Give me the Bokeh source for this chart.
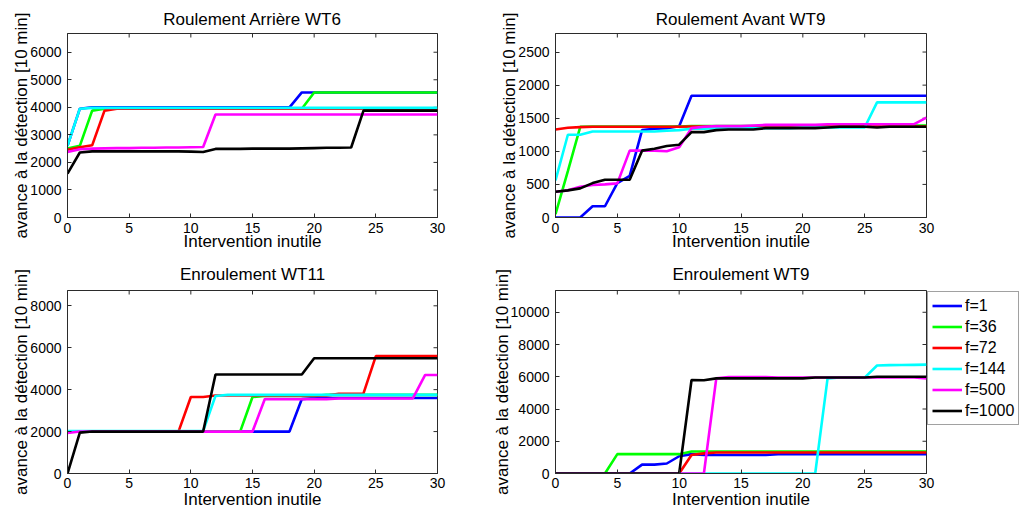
from bokeh.plotting import figure
from bokeh.layouts import column, row
from bokeh.models import Range1d, Legend, LegendItem, FixedTicker
from bokeh.embed import file_html
from bokeh.resources import INLINE
import math

# ---------------- data ----------------
x_vals = [0, 1, 2, 3, 4, 5, 6, 7, 8, 9, 10, 11, 12, 13, 14, 15, 16, 17, 18, 19, 20,
          21, 22, 23, 24, 25, 26, 27, 28, 29, 30]
series_labels = ["f=1", "f=36", "f=72", "f=144", "f=500", "f=1000"]
series_colors = ["#0000ff", "#00ff00", "#ff0000", "#00ffff", "#ff00ff", "#000000"]
x_ticks = [0, 5, 10, 15, 20, 25, 30]
x_label = "Intervention inutile"
y_label = "avance à la détection [10 min]"

# Roulement Arrière WT6
wt6_title = "Roulement Arrière WT6"
wt6_ymax = 6680
wt6_yticks = [0, 1000, 2000, 3000, 4000, 5000, 6000]
wt6_f1 = [2600, 3950, 4000, 4000, 4000, 4000, 4000, 4000, 4000, 4000, 4000, 4000, 4000, 4000, 4000, 4000,
          4000, 4000, 4000, 4540, 4540, 4540, 4540, 4540, 4540, 4540, 4540, 4540, 4540, 4540, 4540]
wt6_f36 = [2500, 2600, 3880, 3950, 3950, 3950, 3950, 3950, 3950, 3950, 3950, 3950, 3950, 3950, 3950, 3950,
           3950, 3950, 3950, 3950, 4540, 4540, 4540, 4540, 4540, 4540, 4540, 4540, 4540, 4540, 4540]
wt6_f72 = [2460, 2550, 2620, 3880, 3950, 3950, 3950, 3950, 3950, 3950, 3950, 3950, 3950, 3950, 3950, 3950,
           3950, 3950, 3950, 3950, 3950, 3950, 3950, 3950, 3950, 3950, 3950, 3950, 3950, 3950, 3950]
wt6_f144 = [2600, 3950, 3980, 3980, 3980, 3980, 3980, 3980, 3980, 3980, 3980, 3980, 3980, 3980, 3980, 3980,
            3980, 3980, 3980, 3980, 3980, 3980, 3980, 3980, 3980, 3980, 3980, 3980, 3980, 3980, 3980]
wt6_f500 = [2380, 2480, 2500, 2510, 2520, 2520, 2530, 2530, 2540, 2540, 2550, 2560, 3740, 3740, 3740, 3740,
            3740, 3740, 3740, 3740, 3740, 3740, 3740, 3740, 3740, 3740, 3740, 3740, 3740, 3740, 3740]
wt6_f1000 = [1590, 2360, 2400, 2400, 2400, 2400, 2400, 2400, 2400, 2400, 2390, 2380, 2490, 2490, 2490, 2500,
             2500, 2500, 2500, 2510, 2520, 2530, 2530, 2540, 3880, 3880, 3880, 3880, 3880, 3880, 3880]

# Roulement Avant WT9
ra9_title = "Roulement Avant WT9"
ra9_ymax = 2780
ra9_yticks = [0, 500, 1000, 1500, 2000, 2500]
ra9_f1 = [0, 0, 0, 170, 170, 520, 630, 1320, 1340, 1350, 1380, 1840, 1840, 1840, 1840, 1840,
          1840, 1840, 1840, 1840, 1840, 1840, 1840, 1840, 1840, 1840, 1840, 1840, 1840, 1840, 1840]
ra9_f36 = [50, 700, 1370, 1375, 1375, 1375, 1375, 1375, 1375, 1375, 1375, 1380, 1380, 1380, 1380, 1380,
           1380, 1380, 1380, 1380, 1380, 1390, 1390, 1390, 1390, 1390, 1390, 1390, 1390, 1390, 1390]
ra9_f72 = [1330, 1355, 1365, 1370, 1370, 1370, 1370, 1370, 1370, 1370, 1370, 1375, 1375, 1375, 1375, 1375,
           1375, 1375, 1375, 1375, 1375, 1375, 1375, 1375, 1375, 1375, 1375, 1375, 1375, 1375, 1375]
ra9_f144 = [560, 1250, 1250, 1300, 1300, 1300, 1300, 1300, 1300, 1310, 1320, 1340, 1340, 1350, 1350, 1350,
            1350, 1350, 1350, 1350, 1360, 1360, 1360, 1360, 1360, 1360, 1740, 1740, 1740, 1740, 1740]
ra9_f500 = [390, 410, 465, 490, 500, 515, 1010, 1010, 1010, 1000, 1060, 1350, 1370, 1380, 1380, 1380,
            1390, 1400, 1400, 1400, 1400, 1400, 1410, 1410, 1410, 1410, 1410, 1410, 1410, 1410, 1510]
ra9_f1000 = [390, 410, 440, 520, 570, 570, 570, 1010, 1040, 1080, 1100, 1290, 1290, 1320, 1330, 1330,
             1330, 1350, 1350, 1350, 1350, 1350, 1360, 1370, 1370, 1370, 1360, 1370, 1370, 1370, 1370]

# Enroulement WT11
en11_title = "Enroulement WT11"
en11_ymax = 8730
en11_yticks = [0, 2000, 4000, 6000, 8000]
en11_f1 = [2000, 2000, 2000, 2000, 2000, 2000, 2000, 2000, 2000, 2000, 2000, 2000, 2000, 2000, 2000, 2000,
           2000, 2000, 2000, 3550, 3600, 3600, 3600, 3600, 3600, 3600, 3600, 3600, 3600, 3600, 3600]
en11_f36 = [2000, 2000, 2000, 2000, 2000, 2000, 2000, 2000, 2000, 2000, 2000, 2000, 2000, 2000, 2000, 3650,
            3700, 3700, 3700, 3700, 3700, 3750, 3750, 3750, 3750, 3750, 3750, 3750, 3750, 3750, 3750]
en11_f72 = [2000, 2000, 2000, 2000, 2000, 2000, 2000, 2000, 2000, 2000, 3650, 3650, 3720, 3720, 3720, 3720,
            3720, 3720, 3720, 3720, 3720, 3720, 3800, 3800, 3820, 5600, 5600, 5600, 5600, 5600, 5600]
en11_f144 = [2030, 2030, 2030, 2030, 2030, 2030, 2030, 2030, 2030, 2030, 2030, 2030, 3700, 3750, 3750, 3750,
             3750, 3750, 3750, 3750, 3750, 3750, 3750, 3750, 3750, 3750, 3750, 3750, 3750, 3750, 3750]
en11_f500 = [1930, 2000, 2000, 2000, 2000, 2000, 2000, 2000, 2000, 2000, 2000, 2000, 2000, 2000, 2000, 2000,
             3550, 3550, 3550, 3550, 3550, 3550, 3580, 3580, 3580, 3580, 3580, 3580, 3580, 4700, 4700]
en11_f1000 = [0, 1950, 2000, 2000, 2000, 2000, 2000, 2000, 2000, 2000, 2000, 2000, 4720, 4720, 4720, 4720,
              4720, 4720, 4720, 4720, 5500, 5500, 5500, 5500, 5500, 5500, 5500, 5500, 5500, 5500, 5500]

# Enroulement WT9
en9_title = "Enroulement WT9"
en9_ymax = 11350
en9_yticks = [0, 2000, 4000, 6000, 8000, 10000]
en9_f1 = [0, 0, 0, 0, 0, 0, 0, 550, 550, 620, 1070, 1200, 1150, 1150, 1150, 1150,
          1150, 1150, 1200, 1200, 1200, 1200, 1200, 1200, 1200, 1200, 1200, 1200, 1200, 1200, 1200]
en9_f36 = [0, 0, 0, 0, 0, 1200, 1200, 1200, 1200, 1200, 1200, 1360, 1360, 1360, 1360, 1360,
           1360, 1360, 1360, 1360, 1360, 1360, 1360, 1360, 1360, 1360, 1360, 1360, 1360, 1360, 1360]
en9_f72 = [0, 0, 0, 0, 0, 0, 0, 0, 0, 0, 0, 1150, 1250, 1300, 1300, 1300,
           1300, 1300, 1300, 1300, 1300, 1300, 1300, 1300, 1300, 1300, 1300, 1300, 1300, 1300, 1300]
en9_f144 = [0, 0, 0, 0, 0, 0, 0, 0, 0, 0, 0, 0, 0, 0, 0, 0,
            0, 0, 0, 0, 0, 0, 5900, 5950, 5950, 5950, 6700, 6720, 6730, 6740, 6750]
en9_f500 = [0, 0, 0, 0, 0, 0, 0, 0, 0, 0, 0, 0, 0, 5900, 5980, 5980,
            5980, 5980, 5950, 5950, 5950, 5950, 5950, 5950, 5950, 5950, 5950, 5950, 5950, 5950, 5900]
en9_f1000 = [0, 0, 0, 0, 0, 0, 0, 0, 0, 0, 0, 5800, 5780, 5900, 5900, 5900,
             5900, 5900, 5900, 5900, 5900, 5950, 5950, 5950, 5950, 5950, 6000, 6000, 6000, 6000, 6000]

# ---------------- styling ----------------
FONT = "Liberation Sans"
AXC = "#2b2b2b"


def make_panel(title, ymax, yticks, series, left, right, top, bottom, fw, fh, row_bottom):
    p = figure(frame_width=fw, frame_height=fh,
               x_range=Range1d(0, 30), y_range=Range1d(0, ymax),
               output_backend="svg", toolbar_location=None,
               min_border_left=left, min_border_right=right,
               min_border_top=top, min_border_bottom=bottom,
               background_fill_color="white", border_fill_color="white",
               outline_line_color=AXC, outline_line_width=1)
    p.grid.visible = False
    p.title.text = title
    p.title.align = "center"
    p.title.text_font = FONT
    p.title.text_font_size = "17px"
    p.title.text_font_style = "normal"
    p.title.text_color = "black"
    p.title.standoff = 13 if row_bottom else 10
    p.title.offset = 0

    for ax, ticks, lab in ((p.xaxis[0], x_ticks, x_label), (p.yaxis[0], yticks, y_label)):
        ax.ticker = FixedTicker(ticks=ticks)
        ax.axis_label = lab
        ax.axis_label_text_font = FONT
        ax.axis_label_text_font_size = "17px"
        ax.axis_label_text_font_style = "normal"
        ax.axis_label_text_color = "black"
        ax.major_label_text_font = FONT
        ax.major_label_text_font_size = "14px"
        ax.major_label_text_color = "black"
        ax.major_tick_in = 4
        ax.major_tick_out = 0
        ax.minor_tick_line_color = None
        ax.axis_line_color = AXC
        ax.major_tick_line_color = AXC
    p.yaxis[0].major_label_standoff = 6
    p.yaxis[0].axis_label_standoff = -4
    if row_bottom:
        p.xaxis[0].major_label_standoff = 4
        p.xaxis[0].axis_label_standoff = -1
    else:
        p.xaxis[0].major_label_standoff = 5
        p.xaxis[0].axis_label_standoff = -4

    # inward ticks on the top and right edges of the box (clipped to the frame)
    p.scatter([30] * len(yticks), yticks, marker="dash", size=8,
              line_color=AXC, line_width=1)
    p.scatter(x_ticks, [ymax] * len(x_ticks), marker="dash", size=8, angle=math.pi / 2,
              line_color=AXC, line_width=1)

    renderers = []
    for ys, col in zip(series, series_colors):
        r = p.line(x_vals, ys, line_color=col, line_width=2.6)
        renderers.append(r)
    return p, renderers


p1, _ = make_panel(wt6_title, wt6_ymax, wt6_yticks,
                   [wt6_f1, wt6_f36, wt6_f72, wt6_f144, wt6_f500, wt6_f1000],
                   67, 40, 33, 36, 370, 184, False)
p2, _ = make_panel(ra9_title, ra9_ymax, ra9_yticks,
                   [ra9_f1, ra9_f36, ra9_f72, ra9_f144, ra9_f500, ra9_f1000],
                   78, 96, 33, 36, 371, 184, False)
p3, _ = make_panel(en11_title, en11_ymax, en11_yticks,
                   [en11_f1, en11_f36, en11_f72, en11_f144, en11_f500, en11_f1000],
                   67, 40, 37, 36, 370, 183, True)
p4, rs4 = make_panel(en9_title, en9_ymax, en9_yticks,
                     [en9_f1, en9_f36, en9_f72, en9_f144, en9_f500, en9_f1000],
                     78, 96, 37, 36, 371, 183, True)

legend = Legend(items=[LegendItem(label=lab, renderers=[r]) for lab, r in zip(series_labels, rs4)],
                location="top_left", margin=1, padding=4, spacing=2,
                glyph_width=30, glyph_height=19, label_height=19, label_standoff=3,
                label_text_font=FONT, label_text_font_size="16px", label_text_color="black",
                border_line_color="#444444", border_line_width=1,
                background_fill_color="white", background_fill_alpha=1)
p4.add_layout(legend, "right")

layout = column(row(p1, p2), row(p3, p4))
open("out.html", "w").write(file_html(layout, INLINE))
